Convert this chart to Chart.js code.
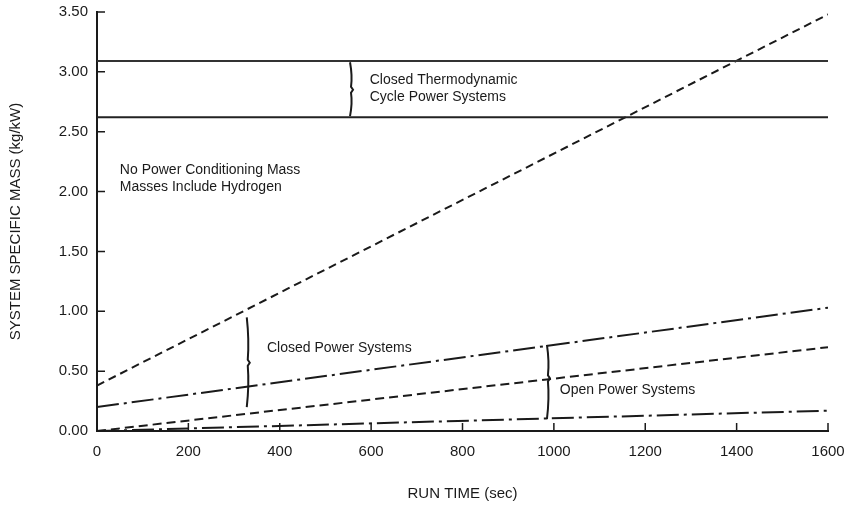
<!DOCTYPE html>
<html>
<head>
<meta charset="utf-8">
<script src="https://cdn.jsdelivr.net/npm/chart.js@4/dist/chart.umd.min.js"></script>
<style>
  html, body { margin: 0; padding: 0; background: #fff; }
  #wrap { width: 848px; height: 510px; }
</style>
</head>
<body>
<div id="wrap"><canvas id="massChart"></canvas></div>
<script>
// run time (sec) at the two ends of each line
const runTime = [0, 1600];
// system specific mass (kg/kW)
const thermoUpper = [3.09, 3.09];
const thermoLower = [2.62, 2.62];
const closedUpper = [0.38, 3.48];
const closedLower = [0.20, 1.03];
const openUpper = [0.00, 0.70];
const openLower = [0.00, 0.17];

const xTicks = [0, 200, 400, 600, 800, 1000, 1200, 1400, 1600];
const yTicks = [0, 0.5, 1.0, 1.5, 2.0, 2.5, 3.0, 3.5];

// notes: [x (sec), y (kg/kW), text]
const notes = [
    [597, 2.93, 'Closed Thermodynamic'],
    [597, 2.79, 'Cycle Power Systems'],
    [50, 2.18, 'No Power Conditioning Mass'],
    [50, 2.04, 'Masses Include Hydrogen'],
    [372, 0.69, 'Closed Power Systems'],
    [1013, 0.34, 'Open Power Systems']
];
// braces: [x (sec), top, middle, bottom]
const braces = [
    [556, 3.08, 2.85, 2.63],
    [330, 0.95, 0.57, 0.20],
    [987, 0.72, 0.44, 0.10]
];

const FONT = "'Liberation Sans', Arial, sans-serif";
const INK = '#1a1a1a';

function pts(ys) {
    return runTime.map((x, i) => ({ x: x, y: ys[i] }));
}

function line(label, ys, dash, color) {
    return {
        label: label,
        data: pts(ys),
        borderColor: color || INK,
        borderWidth: 2,
        borderDash: dash,
        pointRadius: 0,
        fill: false,
        tension: 0
    };
}

// inward tick marks, braces and notes
const extras = {
    id: 'extras',
    afterDraw(chart) {
        const c = chart.ctx;
        const xs = chart.scales.x;
        const ys = chart.scales.y;
        const area = chart.chartArea;
        c.save();
        c.strokeStyle = INK;
        c.lineWidth = 1.5;
        c.beginPath();
        xTicks.forEach(v => {
            const px = xs.getPixelForValue(v);
            c.moveTo(px, area.bottom);
            c.lineTo(px, area.bottom - 8);
        });
        yTicks.forEach(v => {
            const py = ys.getPixelForValue(v);
            c.moveTo(area.left, py);
            c.lineTo(area.left + 8, py);
        });
        c.stroke();

        c.lineWidth = 2;
        braces.forEach(b => {
            const px = xs.getPixelForValue(b[0]);
            const t = ys.getPixelForValue(b[1]);
            const m = ys.getPixelForValue(b[2]);
            const btm = ys.getPixelForValue(b[3]);
            c.beginPath();
            c.moveTo(px - 1, t);
            c.quadraticCurveTo(px + 1.5, (t + m) / 2, px, m - 3);
            c.lineTo(px + 2, m);
            c.lineTo(px, m + 3);
            c.quadraticCurveTo(px + 1.5, (m + btm) / 2, px - 1, btm);
            c.stroke();
        });

        c.fillStyle = INK;
        c.font = '14px ' + FONT;
        c.textAlign = 'left';
        c.textBaseline = 'middle';
        notes.forEach(n => {
            c.fillText(n[2], xs.getPixelForValue(n[0]), ys.getPixelForValue(n[1]));
        });
        c.restore();
    }
};

new Chart(document.getElementById('massChart'), {
    type: 'line',
    data: {
        datasets: [
            line('Thermo upper', thermoUpper, [], '#333'),
            line('Thermo lower', thermoLower, [], '#222'),
            line('Closed upper', closedUpper, [8, 5]),
            line('Closed lower', closedLower, [22, 5, 3, 5]),
            line('Open upper', openUpper, [9, 5]),
            line('Open lower', openLower, [22, 5, 3, 5])
        ]
    },
    options: {
        responsive: true,
        maintainAspectRatio: false,
        animation: false,
        layout: { padding: { left: 0, right: 20, top: 12, bottom: 0 } },
        plugins: {
            legend: { display: false },
            tooltip: { enabled: false }
        },
        scales: {
            x: {
                type: 'linear',
                min: 0,
                max: 1600,
                afterBuildTicks: s => { s.ticks = xTicks.map(v => ({ value: v })); },
                afterFit: s => { s.height = 79; s.paddingRight = 0; s.paddingLeft = 0; },
                grid: { display: false, drawTicks: false },
                border: { display: true, color: INK, width: 2 },
                ticks: {
                    padding: 12,
                    color: INK,
                    font: { family: FONT, size: 15 },
                    callback: v => String(v)
                },
                title: {
                    display: true,
                    text: 'RUN TIME (sec)',
                    color: INK,
                    font: { family: FONT, size: 15 },
                    padding: { top: 4, bottom: 7 }
                }
            },
            y: {
                type: 'linear',
                min: 0,
                max: 3.5,
                afterBuildTicks: s => { s.ticks = yTicks.map(v => ({ value: v })); },
                afterFit: s => { s.width = 97; s.paddingTop = 0; s.paddingBottom = 0; },
                grid: { display: false, drawTicks: false },
                border: { display: true, color: INK, width: 2 },
                ticks: {
                    padding: 9,
                    color: INK,
                    font: { family: FONT, size: 15 },
                    callback: v => v.toFixed(2)
                },
                title: {
                    display: true,
                    text: 'SYSTEM SPECIFIC MASS (kg/kW)',
                    color: INK,
                    font: { family: FONT, size: 15 },
                    padding: { top: 7, bottom: 0 }
                }
            }
        }
    },
    plugins: [extras]
});
</script>
</body>
</html>
